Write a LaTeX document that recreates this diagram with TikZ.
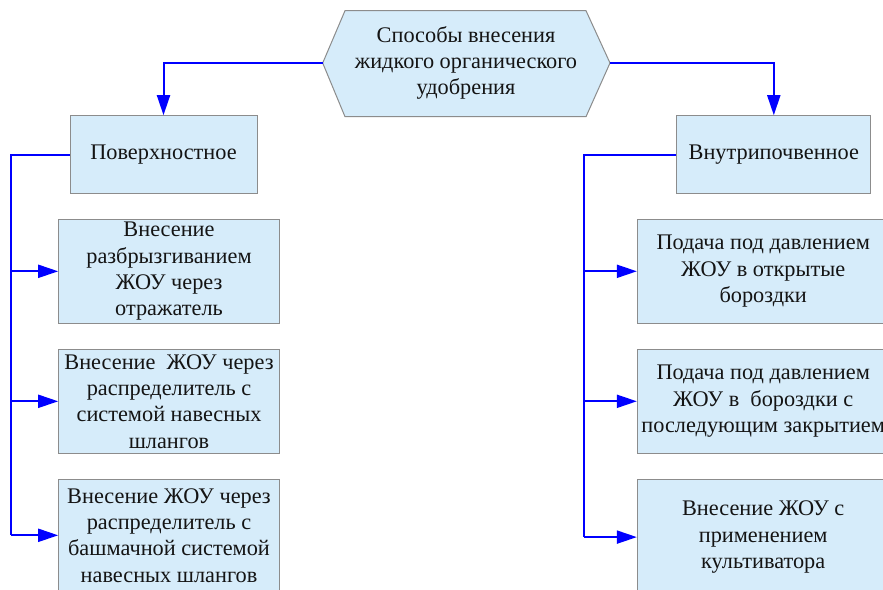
\documentclass[tikz,border=0pt]{standalone}
\usepackage{fontspec}
\setmainfont{Liberation Serif}
\usetikzlibrary{arrows.meta}
\definecolor{boxblue}{RGB}{214,236,250}
\definecolor{boxgray}{RGB}{140,140,140}
\definecolor{linkblue}{RGB}{0,0,255}
\definecolor{txt}{RGB}{20,20,20}
\begin{document}
\begin{tikzpicture}[x=1pt,y=-1pt,
  lbl/.style={text=txt, inner sep=0pt, align=center, font=\fontsize{22.3}{26.3}\selectfont},
  box/.style={lbl, draw=boxgray, fill=boxblue, line width=1pt},
  hexbox/.style={draw=boxgray, fill=boxblue, line width=1pt, line join=miter},
  link/.style={draw=linkblue, line width=2pt},
  arr/.style={link, -{Triangle[length=20pt,width=13pt]}}]
\useasboundingbox (0,0) rectangle (883,589);
\clip (0,0) rectangle (883,589);
\fill[white] (0,0) rectangle (883,589);

% root hexagon
\draw[hexbox] (322.7,63) -- (345,10.7) -- (586,10.7) -- (610,63) -- (586,116.7) -- (345,116.7) -- cycle;
\coordinate (rootL) at (322.7,63);
\coordinate (rootR) at (610,63);
\node[lbl] (root) at (466,63) {Способы внесения\\жидкого органического\\удобрения};

% second level
\node[box, minimum width=187pt, minimum height=77.6pt] (surf) at (163.5,154.5) {Поверхностное};
\node[box, minimum width=194.3pt, minimum height=77.6pt] (sub) at (773.8,154.5) {Внутрипочвенное};

% left children
\node[box, minimum width=220.6pt, minimum height=104pt] (l1) at (169,271.3)
  {Внесение\\разбрызгиванием\\ЖОУ через\\отражатель};
\node[box, minimum width=220.6pt, minimum height=104pt] (l2) at (169,401.3)
  {Внесение~ ЖОУ через\\распределитель с\\системой навесных\\шлангов};
\node[box, minimum width=220.6pt, minimum height=112pt] (l3) at (169,535.3)
  {Внесение ЖОУ через\\распределитель с\\башмачной системой\\навесных шлангов};

% right children
\node[box, minimum width=251.7pt, minimum height=104pt] (r1) at (763.2,271.3)
  {Подача под давлением\\ЖОУ в открытые\\бороздки};
\node[box, minimum width=251.7pt, minimum height=104pt] (r2) at (763.2,401.3)
  {Подача под давлением\\ЖОУ в~ бороздки с\\последующим закрытием};
\node[box, minimum width=251.7pt, minimum height=115.6pt] (r3) at (763.2,537.1)
  {Внесение ЖОУ с\\применением\\культиватора};

% connectors
\draw[arr] (rootL) -| (surf.north);
\draw[arr] (rootR) -| (sub.north);

\coordinate (tl) at (11,0);
\coordinate (tr) at (584.3,0);
\draw[link] (surf.west) -| (tl |- l3.west);
\draw[link] (sub.west) -| (tr |- r3.west);
\foreach \c in {l1,l2,l3}{\draw[arr] (tl |- \c.west) -- (\c.west);}
\foreach \c in {r1,r2,r3}{\draw[arr] (tr |- \c.west) -- (\c.west);}
\end{tikzpicture}
\end{document}
